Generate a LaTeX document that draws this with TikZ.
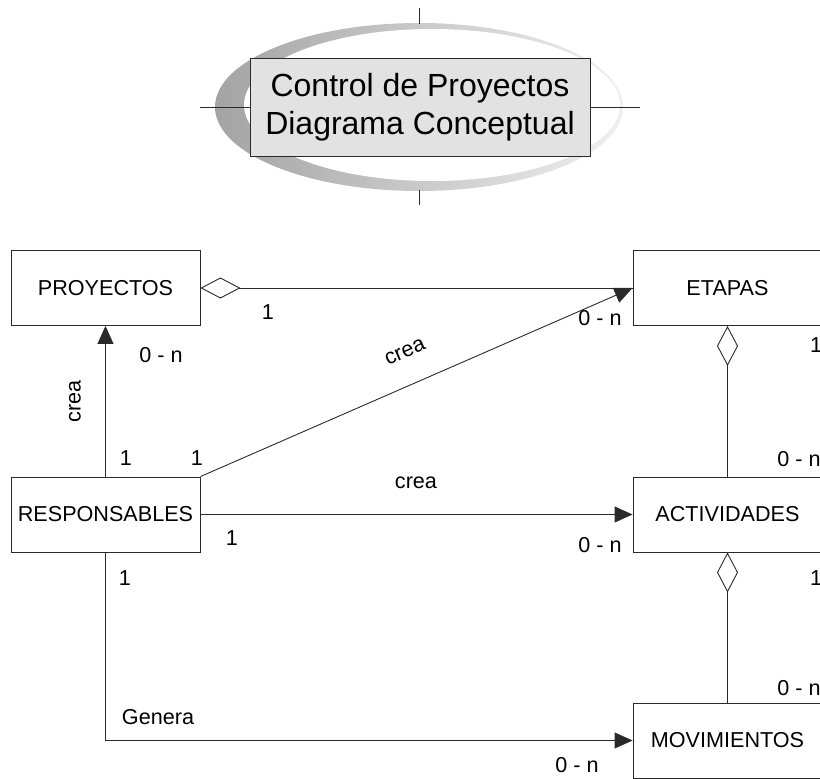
\documentclass[tikz,border=0pt]{standalone}
\usepackage{fontspec}
\setmainfont{Liberation Sans}
\usetikzlibrary{arrows.meta}

\definecolor{ink}{HTML}{2A2A2A}
\definecolor{titlefill}{HTML}{E2E2E2}

\tikzset{
  entity/.style={draw=ink, line width=0.9pt, fill=white, minimum width=189pt,
    minimum height=75pt, inner sep=0pt, font=\fontsize{21.6}{25}\selectfont},
  lbl/.style={inner sep=0pt, font=\fontsize{21.6}{25}\selectfont},
  link/.style={draw=ink, line width=0.9pt},
  tofilled/.style={-{Triangle[length=18pt,width=16pt]}},
  fromdiamond/.style={{Diamond[open,length=40pt,width=21pt]}-}
}

\begin{document}
\begin{tikzpicture}[x=1pt,y=-1pt]
\useasboundingbox (0,0) rectangle (820,779);
\clip (0,0) rectangle (820,779);

% title emblem: shaded ring behind a boxed heading
\shade[left color=black!36, right color=black!6] (419,107) ellipse [x radius=204pt, y radius=84pt];
\fill[white] (432,105) ellipse [x radius=188pt, y radius=76pt];
\node[draw=ink, line width=0.9pt, fill=titlefill, minimum width=340pt, minimum height=98pt,
  inner sep=0pt, align=center, font=\fontsize{32}{38}\selectfont] (T) at (420,107)
  {Control de Proyectos\\Diagrama Conceptual};
\coordinate (Tt1) at (419,8);
\coordinate (Tt2) at (419,24);
\coordinate (Tb1) at (419,190);
\coordinate (Tb2) at (419,205);
\draw[link] (T.west) -- ++(-50,0);
\draw[link] (T.east) -- ++(50,0);
\draw[link] (Tt1) -- (Tt2);
\draw[link] (Tb1) -- (Tb2);

% entities
\node[entity] (P) at (105.5,288) {PROYECTOS};
\node[entity] (E) at (727.5,288) {ETAPAS};
\node[entity] (R) at (105.5,514.5) {RESPONSABLES};
\node[entity] (A) at (727.5,514.5) {ACTIVIDADES};
\node[entity] (M) at (727.5,740.5) {MOVIMIENTOS};

% relationships
\draw[link, fromdiamond] (P.east) -- (E.west);
\draw[link, tofilled] (R.north east) -- (E.west);
\draw[link, tofilled] (R.north) -- (P.south);
\draw[link, tofilled] (R.east) -- (A.west);
\draw[link, tofilled] (R.south) |- (M.west);
\draw[link, fromdiamond] (E.south) -- (A.north);
\draw[link, fromdiamond] (A.south) -- (M.north);

% role names and multiplicities
\node[lbl] (l1) at (268,312) {1};
\node[lbl] (l2) at (600,318) {0 - n};
\node[lbl, rotate=23.6] (l3) at (405,352) {crea};
\node[lbl] (l4) at (161,355) {0 - n};
\node[lbl, rotate=90] (l5) at (75,401) {crea};
\node[lbl] (l6) at (126,458) {1};
\node[lbl] (l7) at (197,458) {1};
\node[lbl] (l8) at (416,483) {crea};
\node[lbl] (l9) at (232,538) {1};
\node[lbl] (l10) at (600,545) {0 - n};
\node[lbl] (l11) at (125,578) {1};
\node[lbl] (l12) at (158,717) {Genera};
\node[lbl] (l13) at (577,765) {0 - n};
\node[lbl] (l14) at (816,345) {1};
\node[lbl] (l15) at (799,459) {0 - n};
\node[lbl] (l16) at (816,578) {1};
\node[lbl] (l17) at (799,688) {0 - n};
\end{tikzpicture}
\end{document}
